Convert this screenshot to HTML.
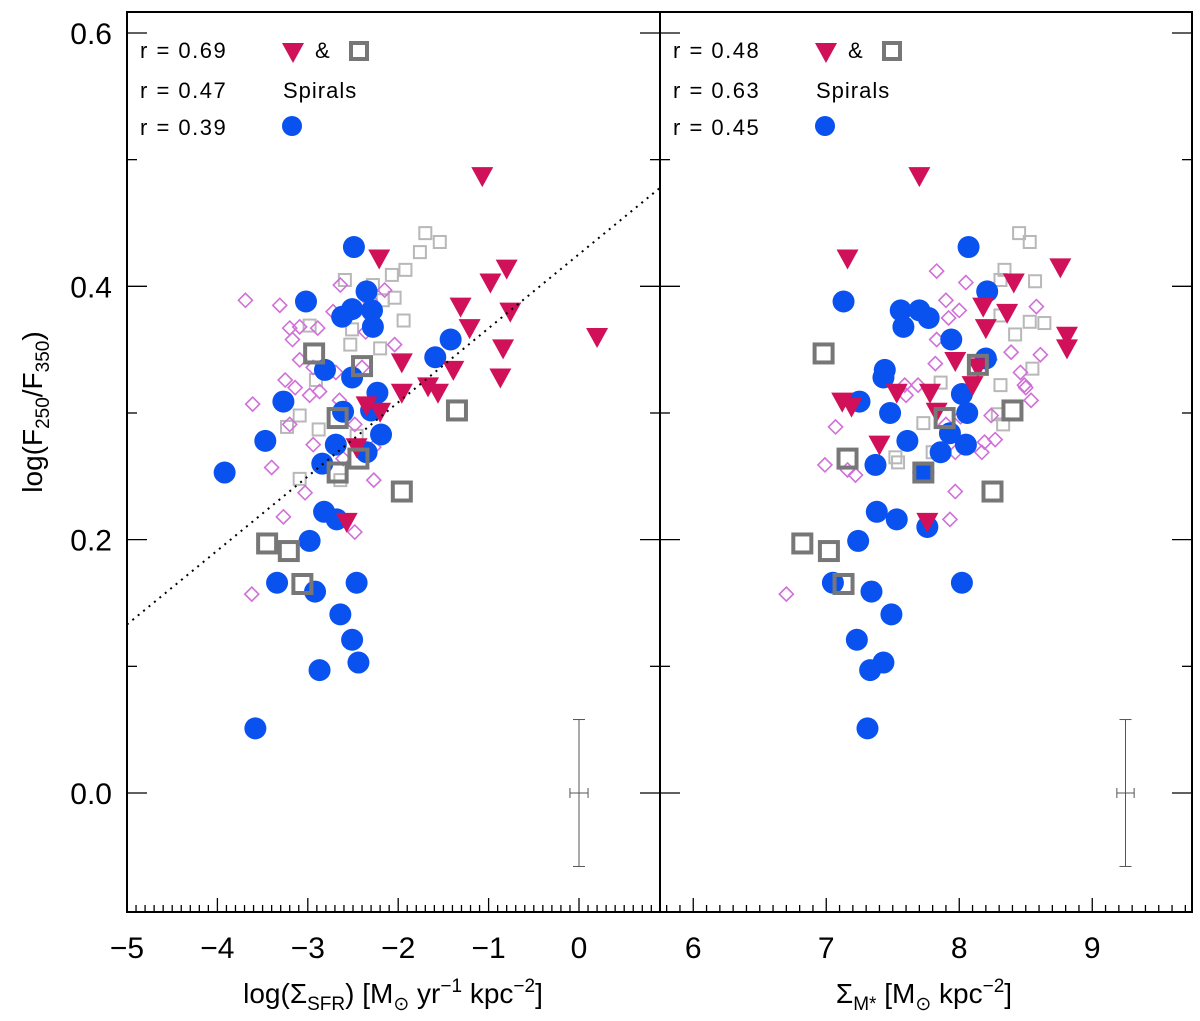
<!DOCTYPE html>
<html><head><meta charset="utf-8"><style>
body{margin:0;background:#fff}
svg{display:block;font-family:"Liberation Sans",sans-serif}
</style></head><body>
<svg id="chart" width="1200" height="1021" viewBox="0 0 1200 1021" xmlns="http://www.w3.org/2000/svg">
<g id="layer"></g>
</svg>
<script>
// ---- data ----
const leftBlue=[[-3.92,0.253],[-3.58,0.051],[-3.47,0.278],[-3.27,0.309],[-3.34,0.166],[-3.02,0.388],[-2.98,0.199],[-2.92,0.159],[-2.87,0.097],[-2.84,0.260],[-2.81,0.334],[-2.82,0.222],[-2.68,0.216],[-2.64,0.141],[-2.62,0.376],[-2.61,0.301],[-2.51,0.382],[-2.49,0.431],[-2.35,0.396],[-2.29,0.381],[-2.28,0.368],[-2.51,0.328],[-2.23,0.316],[-2.30,0.302],[-2.69,0.275],[-2.19,0.283],[-2.35,0.269],[-1.42,0.358],[-1.59,0.344],[-2.51,0.121],[-2.44,0.103],[-2.46,0.166]];
const leftRed=[[-1.07,0.487],[-2.21,0.422],[-0.98,0.403],[-0.80,0.414],[-1.31,0.384],[-0.76,0.380],[-1.21,0.367],[-0.84,0.351],[-0.87,0.328],[0.20,0.360],[-1.96,0.340],[-1.39,0.334],[-1.67,0.321],[-1.56,0.316],[-1.96,0.316],[-2.35,0.306],[-2.20,0.301],[-2.46,0.273],[-2.57,0.214]];
const leftDark=[[-2.93,0.347],[-2.40,0.337],[-2.67,0.296],[-2.44,0.264],[-2.67,0.253],[-1.96,0.238],[-1.35,0.302],[-3.45,0.197],[-3.21,0.191],[-3.06,0.165]];
const leftLight=[[-1.70,0.442],[-1.54,0.435],[-2.59,0.405],[-2.28,0.401],[-1.92,0.413],[-2.17,0.389],[-2.51,0.366],[-2.53,0.354],[-2.91,0.326],[-2.98,0.369],[-3.09,0.298],[-3.23,0.289],[-3.09,0.248],[-2.64,0.247],[-2.46,0.282],[-2.25,0.307],[-2.04,0.391],[-2.88,0.287],[-2.20,0.351],[-1.94,0.373],[-1.76,0.427],[-2.07,0.409]];
const leftPink=[[-3.69,0.389],[-3.61,0.307],[-3.40,0.257],[-3.62,0.157],[-3.17,0.358],[-3.25,0.326],[-3.09,0.342],[-2.89,0.367],[-2.72,0.380],[-2.64,0.401],[-2.37,0.392],[-2.15,0.397],[-2.87,0.317],[-3.14,0.320],[-2.98,0.314],[-2.69,0.332],[-2.48,0.291],[-2.61,0.264],[-2.27,0.247],[-2.27,0.273],[-3.27,0.218],[-2.48,0.206],[-2.04,0.354],[-2.36,0.364],[-2.40,0.336],[-3.09,0.368],[-2.94,0.336],[-3.20,0.291],[-2.94,0.275],[-2.65,0.310],[-2.16,0.284],[-3.03,0.237],[-2.31,0.389],[-3.31,0.385],[-3.20,0.367]];
const rightBlue=[[8.07,0.431],[7.13,0.388],[7.56,0.381],[7.70,0.381],[7.77,0.375],[7.58,0.368],[8.21,0.396],[7.94,0.358],[8.20,0.343],[7.44,0.334],[7.43,0.328],[7.25,0.309],[7.48,0.300],[8.02,0.315],[8.06,0.300],[7.93,0.284],[8.05,0.275],[7.61,0.278],[7.86,0.269],[7.37,0.259],[7.73,0.253],[7.38,0.222],[7.53,0.216],[7.76,0.210],[7.24,0.199],[7.34,0.159],[7.49,0.141],[7.23,0.121],[7.43,0.103],[7.33,0.097],[7.31,0.051],[7.05,0.166],[8.02,0.166]];
const rightRed=[[7.70,0.487],[7.16,0.422],[8.76,0.415],[8.41,0.403],[8.18,0.384],[8.36,0.379],[8.20,0.367],[8.81,0.361],[8.81,0.351],[7.97,0.341],[8.10,0.322],[7.53,0.316],[7.78,0.316],[7.12,0.309],[7.19,0.305],[7.83,0.301],[7.40,0.275],[7.76,0.214],[8.14,0.336]];
const rightDark=[[6.98,0.347],[7.16,0.264],[8.14,0.338],[7.89,0.296],[7.73,0.253],[8.25,0.238],[8.40,0.302],[6.82,0.197],[7.02,0.191],[7.13,0.165]];
const rightLight=[[8.53,0.435],[8.45,0.442],[8.34,0.413],[8.57,0.404],[8.31,0.405],[8.53,0.372],[8.64,0.371],[8.55,0.335],[8.31,0.322],[8.29,0.299],[8.33,0.291],[7.73,0.292],[7.80,0.269],[7.54,0.261],[7.52,0.265],[8.42,0.362],[8.31,0.377],[7.86,0.324]];
const rightPink=[[7.83,0.412],[8.05,0.403],[7.90,0.389],[7.92,0.375],[8.58,0.384],[7.83,0.358],[8.61,0.346],[7.82,0.339],[8.46,0.332],[8.49,0.322],[8.50,0.320],[8.54,0.310],[7.59,0.322],[7.69,0.322],[7.60,0.314],[7.97,0.269],[8.19,0.277],[8.17,0.269],[8.27,0.279],[8.24,0.298],[8.01,0.297],[7.90,0.291],[7.07,0.289],[7.16,0.255],[7.22,0.251],[6.70,0.157],[6.99,0.259],[7.93,0.216],[7.97,0.238],[8.00,0.381],[8.39,0.348],[8.23,0.342]];
const leftXTicks=[-5,-4,-3,-2,-1,0];
const rightXTicks=[6,7,8,9];
const yTicks=[0.0,0.2,0.4,0.6];
const fitLine=[[-5,0.133],[0.9,0.478]];
const legendLeft=["r = 0.69","r = 0.47","r = 0.39"];
const legendRight=["r = 0.48","r = 0.63","r = 0.45"];
const errLeft=[0,0.058,0.1];
const errRight=[9.25,0.058,0.065];

// ---- geometry ----
const NS="http://www.w3.org/2000/svg";
const L=document.getElementById('layer');
const Y0=12,Y1=912;
const yS=v=>793-v*1266.7;
const lx=v=>127+(v+5)*90.4;
const rx=v=>660+(v-5.75)*133;
function el(t,a,p){const e=document.createElementNS(NS,t);for(const k in a)e.setAttribute(k,a[k]);(p||L).appendChild(e);return e;}

function panel(name,X0,X1,xs,xmin,xmax,xticks,blue,red,dark,light,pink,leg,err){
  const g=el('g',{});
  
  
  for(let i=Math.ceil(xmin*10);i<=Math.floor(xmax*10);i++){
    const v=i/10,x=xs(v),maj=Math.abs(v-Math.round(v))<1e-6;
    if(x<=X0+1||x>=X1-1)continue;
    const t=el('line',{x1:x,x2:x,y1:Y1,y2:Y1-(maj?14:7),stroke:'#000','stroke-width':1.3},g);
    
    
  }
  xticks.forEach(v=>{
    const t=el('text',{x:xs(v),y:958,'font-size':30,'text-anchor':'middle'},g);
    t.textContent=(v<0?'\u2212'+(-v):String(v));
    
    
  });
  for(let i=0;i<=6;i++){
    const v=i/10,y=yS(v),maj=(i%2===0);
    const a=el('line',{x1:X0,x2:X0+(maj?20:10),y1:y,y2:y,stroke:'#000','stroke-width':1.3},g);
    
    
    const b=el('line',{x1:X1,x2:X1-(maj?20:10),y1:y,y2:y,stroke:'#000','stroke-width':1.3},g);
    
    
  }
  light.forEach(d=>{const e=el('rect',{x:xs(d[0])-6,y:yS(d[1])-6,width:12,height:12,fill:'none',stroke:'#b8b8b8','stroke-width':2},g);
    
    });
  pink.forEach(d=>{const x=xs(d[0]),y=yS(d[1]);const e=el('polygon',{points:`${x},${y-7} ${x+7},${y} ${x},${y+7} ${x-7},${y}`,fill:'none',stroke:'#d070d8','stroke-width':1.6},g);
    
    });
  blue.forEach(d=>{const e=el('circle',{cx:xs(d[0]),cy:yS(d[1]),r:11,fill:'#0a52f0'},g);
    
    });
  red.forEach(d=>{const x=xs(d[0]),y=yS(d[1]);const e=el('polygon',{points:`${x-11},${y-9} ${x+11},${y-9} ${x},${y+11}`,fill:'#d01058'},g);
    
    });
  dark.forEach(d=>{const e=el('rect',{x:xs(d[0])-9,y:yS(d[1])-9,width:18,height:18,fill:'none',stroke:'#777','stroke-width':4},g);
    
    });
  const ex=xs(err[0]),ey=err[1],exw=(xs(err[0]+err[2])-xs(err[0]));
  const eb=el('g',{stroke:'#555','stroke-width':1},g);
  
  
  el('line',{x1:ex,x2:ex,y1:yS(ey),y2:yS(-ey)},eb);
  el('line',{x1:ex-6,x2:ex+6,y1:yS(ey),y2:yS(ey)},eb);
  el('line',{x1:ex-6,x2:ex+6,y1:yS(-ey),y2:yS(-ey)},eb);
  el('line',{x1:ex-exw,x2:ex+exw,y1:yS(0),y2:yS(0)},eb);
  el('line',{x1:ex-exw,x2:ex-exw,y1:yS(0)-5,y2:yS(0)+5},eb);
  el('line',{x1:ex+exw,x2:ex+exw,y1:yS(0)-5,y2:yS(0)+5},eb);
  const lg=el('g',{},g);
  
  
  const lx0=X0+13;
  [50,90,127].forEach((y,i)=>{const t=el('text',{x:lx0,y:y+8,'font-size':22,'letter-spacing':'1.5'},lg);t.textContent=leg[i];
    
    });
  el('polygon',{points:`${lx0+142},${43} ${lx0+164},${43} ${lx0+153},${63}`,fill:'#d01058'},lg);
  const amp=el('text',{x:lx0+175,y:58,'font-size':22},lg);amp.textContent='&';
  el('rect',{x:lx0+211,y:43,width:16,height:16,fill:'none',stroke:'#777','stroke-width':4},lg);
  const sp=el('text',{x:lx0+143,y:98,'font-size':22,'letter-spacing':'1'},lg);sp.textContent='Spirals';
  el('circle',{cx:lx0+152,cy:126,r:10,fill:'#0a52f0'},lg);
}
panel('left',127,660,lx,-5,0.9,leftXTicks,leftBlue,leftRed,leftDark,leftLight,leftPink,legendLeft,errLeft);
panel('right',660,1192,rx,5.75,9.75,rightXTicks,rightBlue,rightRed,rightDark,rightLight,rightPink,legendRight,errRight);

const fl=el('line',{x1:lx(fitLine[0][0]),y1:yS(fitLine[0][1]),x2:lx(fitLine[1][0]),y2:yS(fitLine[1][1]),stroke:'#000','stroke-width':2,'stroke-dasharray':'2 5'});



const f=el('rect',{x:127,y:Y0,width:1065,height:Y1-Y0,fill:'none',stroke:'#000','stroke-width':2});


const dv=el('line',{x1:660,x2:660,y1:Y0,y2:Y1,stroke:'#000','stroke-width':2});



yTicks.forEach(v=>{const t=el('text',{x:112,y:yS(v)+11,'font-size':30,'text-anchor':'end'});t.textContent=v.toFixed(1);
  
  });
</script>
<svg width="1200" height="1021" style="position:absolute;left:0;top:0;font-family:'Liberation Sans',sans-serif">
<text transform="translate(42,412) rotate(-90)" font-size="28" text-anchor="middle">log(F<tspan font-size="19" dy="7">250</tspan><tspan dy="-7">/F</tspan><tspan font-size="19" dy="7">350</tspan><tspan dy="-7">)</tspan></text>
<text x="393" y="1003" font-size="28" text-anchor="middle">log(Σ<tspan font-size="19" dy="7">SFR</tspan><tspan dy="-7">)  [M</tspan><tspan font-size="19" dy="7">⊙</tspan><tspan dy="-7"> yr</tspan><tspan font-size="19" dy="-11">−1</tspan><tspan dy="11"> kpc</tspan><tspan font-size="19" dy="-11">−2</tspan><tspan dy="11">]</tspan></text>
<text x="924" y="1003" font-size="28" text-anchor="middle">Σ<tspan font-size="19" dy="7">M*</tspan><tspan dy="-7"> [M</tspan><tspan font-size="19" dy="7">⊙</tspan><tspan dy="-7"> kpc</tspan><tspan font-size="19" dy="-11">−2</tspan><tspan dy="11">]</tspan></text>
</svg>
</body></html>
